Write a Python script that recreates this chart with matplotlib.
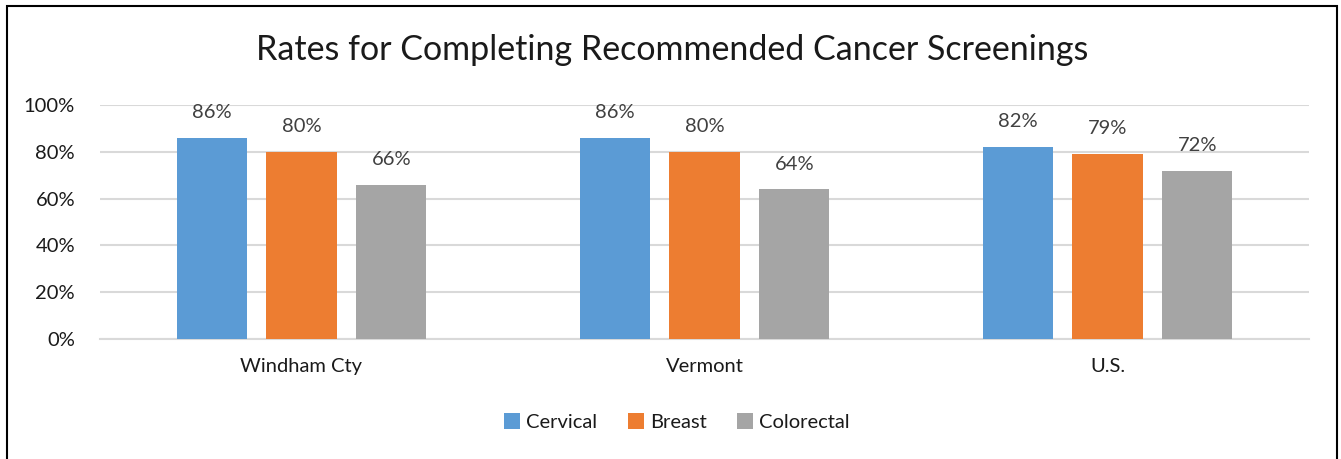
import matplotlib
matplotlib.use("Agg")
import matplotlib.pyplot as plt
import numpy as np
from matplotlib.patches import Rectangle

categories = ["Windham Cty", "Vermont", "U.S."]
series = ["Cervical", "Breast", "Colorectal"]
cervical = [86, 86, 82]
breast = [80, 80, 79]
colorectal = [66, 64, 72]
values = [cervical, breast, colorectal]
colors = ["#5B9BD5", "#ED7D31", "#A5A5A5"]
yticks = [0, 20, 40, 60, 80, 100]
ytick_labels = ["0%", "20%", "40%", "60%", "80%", "100%"]

plt.rcParams['font.family'] = ['Lato', 'DejaVu Sans']

W, H = 1341, 459
fig = plt.figure(figsize=(W / 100, H / 100), dpi=100)
ax = fig.add_axes([100 / W, 1 - 339 / H, (1309 - 100) / W, (339 - 105) / H])

x = np.arange(len(categories))
bw = 0.174
off = 0.223
for i, (s, v, c) in enumerate(zip(series, values, colors)):
    pos = x + (i - 1) * off
    ax.bar(pos, v, width=bw, color=c, label=s, zorder=3)
    for p, val in zip(pos, v):
        ax.annotate(f"{val}%", (p, val), xytext=(0, 12), textcoords="offset points",
                    ha="center", va="bottom", fontsize=14.5, color="#404040")

ax.set_xlim(-0.5, 2.5)
ax.set_ylim(0, 100)
ax.set_yticks(yticks)
ax.set_yticklabels(ytick_labels, fontsize=14.5, color="#1a1a1a")
ax.set_xticks(x)
ax.set_xticklabels(categories, fontsize=14.5, color="#1a1a1a")
ax.tick_params(axis="both", length=0)
ax.tick_params(axis="y", pad=18)
ax.tick_params(axis="x", pad=14)
ax.grid(axis="y", color="#D9D9D9", linewidth=1.5, zorder=0)
for sp in ["top", "right", "left"]:
    ax.spines[sp].set_visible(False)
ax.spines["bottom"].set_color("#D9D9D9")
ax.spines["bottom"].set_linewidth(1.5)

fig.text(672 / W, 1 - 50 / H, "Rates for Completing Recommended Cancer Screenings",
         ha="center", va="center", fontsize=24.5, color="#1a1a1a")

leg = fig.legend(loc="center", bbox_to_anchor=(677 / W, 1 - 422 / H), ncol=3, frameon=False,
                 fontsize=14.5, handlelength=0.8, handleheight=0.8, handletextpad=0.3,
                 columnspacing=1.5)
for t in leg.get_texts():
    t.set_color("#1a1a1a")

fig.patches.append(Rectangle((7 / W, -0.05), (1337 - 7) / W, 1 - 6 / H + 0.05,
                             transform=fig.transFigure, fill=False, edgecolor="black",
                             linewidth=1.5))

fig.savefig("out.png", dpi=100)
